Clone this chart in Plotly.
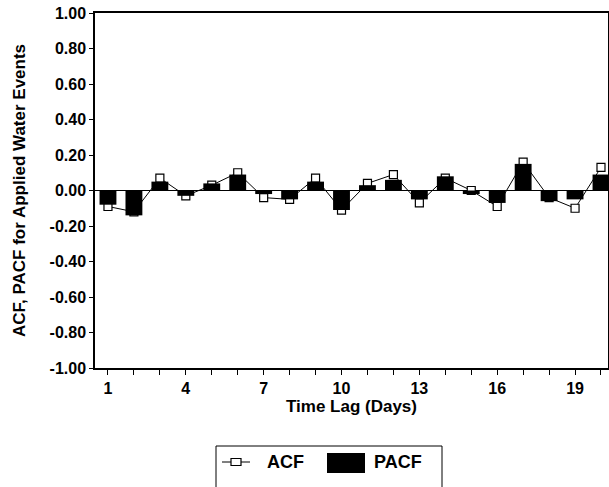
import plotly.graph_objects as go

lags = list(range(1, 21))
acf = [-0.09, -0.12, 0.07, -0.03, 0.03, 0.10, -0.04, -0.05, 0.07, -0.11,
       0.04, 0.09, -0.07, 0.07, 0.00, -0.09, 0.16, -0.04, -0.10, 0.13]
pacf = [-0.08, -0.14, 0.05, -0.03, 0.04, 0.09, -0.02, -0.05, 0.05, -0.11,
        0.03, 0.06, -0.05, 0.08, -0.02, -0.07, 0.15, -0.06, -0.05, 0.09]

y_tickvals = [1.0, 0.8, 0.6, 0.4, 0.2, 0.0, -0.2, -0.4, -0.6, -0.8, -1.0]
y_ticktext = ["1.00", "0.80", "0.60", "0.40", "0.20", "0.00",
              "-0.20", "-0.40", "-0.60", "-0.80", "-1.00"]
x_ticktext = [str(v) if v in (1, 4, 7, 10, 13, 16, 19) else "" for v in lags]

FAM = "Liberation Sans"
tick_font = dict(family=FAM, size=16, color="black", weight="bold")
title_font = dict(family=FAM, size=17, color="black", weight="bold")

fig = go.Figure()
fig.add_trace(go.Scatter(
    x=lags, y=acf, name="ACF", mode="lines+markers",
    line=dict(color="black", width=1),
    marker=dict(symbol="square", size=8, color="white",
                line=dict(color="black", width=1.2)),
    xaxis="x", yaxis="y", showlegend=False,
))
fig.add_trace(go.Bar(
    x=lags, y=pacf, name="PACF", width=0.65,
    marker=dict(color="black", line=dict(width=0)),
    xaxis="x2", yaxis="y2", showlegend=False,
))

xrange = [0.5, 20.27]
PW, PH = 513.0, 355.0
fig.update_layout(
    width=609, height=487,
    margin=dict(l=95, r=1, t=13, b=119),
    paper_bgcolor="white", plot_bgcolor="white",
    font=tick_font,
    barmode="overlay",
    xaxis=dict(range=xrange, tickvals=lags, ticktext=x_ticktext,
               ticks="outside", ticklen=5, tickcolor="black", tickwidth=1,
               showgrid=False, zeroline=False, tickfont=tick_font,
               showline=True, linecolor="black", linewidth=1.5, mirror=True,
               automargin=False,
               title=dict(text="Time Lag (Days)", font=title_font, standoff=4)),
    yaxis=dict(range=[-1, 1], tickvals=y_tickvals, ticktext=y_ticktext,
               ticks="outside", ticklen=4, tickcolor="black", tickwidth=1,
               showgrid=False, tickfont=tick_font,
               showline=True, linecolor="black", linewidth=1.5, mirror=True,
               zeroline=True, zerolinecolor="black", zerolinewidth=1,
               automargin=False,
               title=dict(text="ACF, PACF for Applied Water Events",
                          font=title_font, standoff=20)),
    xaxis2=dict(range=xrange, overlaying="x", visible=False),
    yaxis2=dict(range=[-1, 1], overlaying="y", visible=False),
)

# hand-drawn legend (paper coordinates derived from plot-area pixels)
def px(dx):
    return dx / PW
def py(dy):
    return -dy / PH

shapes = [
    dict(type="rect", xref="paper", yref="paper",
         x0=px(121), x1=px(347), y0=py(78), y1=py(125),
         line=dict(color="black", width=1), fillcolor="white", layer="above"),
    dict(type="line", xref="paper", yref="paper",
         x0=px(127), x1=px(155), y0=py(94), y1=py(94),
         line=dict(color="black", width=1), layer="above"),
    dict(type="rect", xref="paper", yref="paper",
         x0=px(136), x1=px(146), y0=py(90.5), y1=py(97.5),
         line=dict(color="black", width=1.2), fillcolor="white", layer="above"),
    dict(type="rect", xref="paper", yref="paper",
         x0=px(232), x1=px(270), y0=py(85), y1=py(105),
         line=dict(color="black", width=0), fillcolor="black", layer="above"),
]
legend_font = dict(family=FAM, size=18, color="black", weight="bold")
annotations = [
    dict(text="ACF", xref="paper", yref="paper", x=px(170), y=py(94),
         xanchor="left", yanchor="middle", showarrow=False, font=legend_font),
    dict(text="PACF", xref="paper", yref="paper", x=px(277), y=py(94),
         xanchor="left", yanchor="middle", showarrow=False, font=legend_font),
]
fig.update_layout(shapes=shapes, annotations=annotations)

fig.write_html("out.html",
               config={"displayModeBar": False},
               post_script="document.body.style.margin='0';document.body.style.overflow='hidden';")
